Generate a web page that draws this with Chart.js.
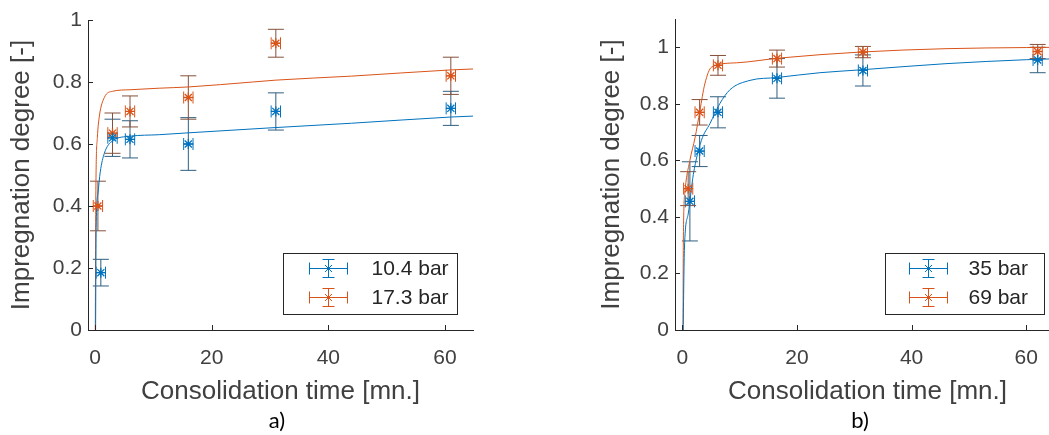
<!DOCTYPE html>
<html>
<head>
<meta charset="utf-8">
<script src="https://cdn.jsdelivr.net/npm/chart.js@4.4.1/dist/chart.umd.min.js"></script>
<style>
  html, body { margin: 0; padding: 0; background: #fff; overflow: hidden; }
  body { width: 1049px; height: 435px; position: relative; }
  .panel { position: absolute; top: 0; height: 435px; }
  #panelA { left: 0; width: 525px; }
  #panelB { left: 525px; width: 545px; }
  .cap { position: absolute; top: 406px; font: 22px Lato, "Open Sans", sans-serif; color: #000; transform: translateX(-50%); }
</style>
</head>
<body>
<div class="panel" id="panelA"><canvas id="chartA"></canvas></div>
<div class="panel" id="panelB"><canvas id="chartB"></canvas></div>
<div class="cap" style="left:277px">a)</div>
<div class="cap" style="left:860px">b)</div>
<script>
// ticks
var xTicks = [0, 20, 40, 60];
var yTicks = [0, 0.2, 0.4, 0.6, 0.8, 1];

// a) measured points, 10.4 bar and 17.3 bar
var timeA1 = [1, 3, 6, 16, 31, 61];
var degA1 = [0.185, 0.62, 0.615, 0.60, 0.705, 0.715];
var errA1 = [0.043, 0.06, 0.06, 0.085, 0.06, 0.055];
var timeA2 = [0.5, 3, 6, 16, 31, 61];
var degA2 = [0.40, 0.635, 0.705, 0.75, 0.925, 0.82];
var errA2 = [0.08, 0.065, 0.05, 0.07, 0.045, 0.06];

// a) fitted curves
var fitTimeA1 = [0.1, 0.2, 0.5, 0.9, 1.6, 3, 6, 11, 16, 30, 44, 61, 64.8];
var fitA1 = [0, 0.33, 0.44, 0.51, 0.57, 0.61, 0.625, 0.63, 0.636, 0.652, 0.667, 0.687, 0.69];
var fitTimeA2 = [0.05, 0.15, 0.4, 0.75, 1.6, 3, 6, 11, 16, 27, 31, 44, 61, 64.8];
var fitA2 = [0, 0.45, 0.62, 0.69, 0.75, 0.77, 0.775, 0.78, 0.784, 0.80, 0.806, 0.819, 0.839, 0.842];

// b) measured points, 35 bar and 69 bar
var timeB1 = [1.3, 3, 6.2, 16.5, 31.5, 62];
var degB1 = [0.455, 0.633, 0.77, 0.89, 0.918, 0.955];
var errB1 = [0.14, 0.055, 0.055, 0.07, 0.055, 0.045];
var timeB2 = [1, 3, 6.2, 16.5, 31.5, 62];
var degB2 = [0.50, 0.77, 0.936, 0.96, 0.983, 0.985];
var errB2 = [0.06, 0.045, 0.035, 0.03, 0.02, 0.025];

// b) fitted curves
var fitTimeB1 = [0.12, 0.35, 1.0, 1.9, 3.3, 4.8, 6.5, 8.3, 11.8, 16.5, 24, 31, 46, 60, 65.9];
var fitB1 = [0, 0.29, 0.41, 0.55, 0.67, 0.73, 0.80, 0.85, 0.883, 0.893, 0.91, 0.92, 0.942, 0.956, 0.96];
var fitTimeB2 = [0.1, 0.15, 0.44, 1.3, 2.2, 3.05, 3.9, 5.1, 9.4, 17, 31, 46, 60, 65.9];
var fitB2 = [0, 0.3, 0.49, 0.60, 0.68, 0.776, 0.87, 0.93, 0.945, 0.962, 0.983, 0.995, 0.999, 1.0];

// horizontal error on the time, in minutes
var timeErr = 0.8;

var BLUE = '#0072BD', ORANGE = '#D95319';
var BLUE_BAR = '#2f5f80', ORANGE_BAR = '#85503a';
var AXIS = '#262626', TEXT = '#404040';
var FONT = '"Liberation Sans", Arial, sans-serif';

function pairs(xs, ys) {
    return xs.map(function (x, i) { return { x: x, y: ys[i] }; });
}

var errorBarPlugin = {
    id: 'errorBars',
    beforeDatasetsDraw: function (chart, args, opts) {
        var ctx = chart.ctx, xs = chart.scales.x, ys = chart.scales.y;
        ctx.save();
        ctx.lineWidth = 1;
        opts.series.forEach(function (s) {
            s.t.forEach(function (t, i) {
                var x = xs.getPixelForValue(t), y = ys.getPixelForValue(s.v[i]);
                var yTop = ys.getPixelForValue(s.v[i] + s.err[i]);
                var yBot = ys.getPixelForValue(s.v[i] - s.err[i]);
                var xL = xs.getPixelForValue(t - timeErr), xR = xs.getPixelForValue(t + timeErr);

                ctx.strokeStyle = s.barColor;
                ctx.beginPath();
                ctx.moveTo(x, yTop); ctx.lineTo(x, yBot);
                ctx.moveTo(x - 8, yTop); ctx.lineTo(x + 8, yTop);
                ctx.moveTo(x - 8, yBot); ctx.lineTo(x + 8, yBot);
                ctx.stroke();

                ctx.strokeStyle = s.color;
                ctx.beginPath();
                ctx.moveTo(xL, y); ctx.lineTo(xR, y);
                ctx.moveTo(xL, y - 6); ctx.lineTo(xL, y + 6);
                ctx.moveTo(xR, y - 6); ctx.lineTo(xR, y + 6);
                ctx.stroke();
            });
        });
        ctx.restore();
    }
};

// MATLAB style ticks pointing into the axes
var innerTicksPlugin = {
    id: 'innerTicks',
    afterDraw: function (chart) {
        var ctx = chart.ctx, area = chart.chartArea;
        ctx.save();
        ctx.strokeStyle = AXIS;
        ctx.lineWidth = 1;
        ctx.beginPath();
        chart.scales.x.ticks.forEach(function (tk) {
            var px = Math.round(chart.scales.x.getPixelForValue(tk.value)) + 0.5;
            ctx.moveTo(px, area.bottom); ctx.lineTo(px, area.bottom - 5);
        });
        chart.scales.y.ticks.forEach(function (tk) {
            var py = Math.round(chart.scales.y.getPixelForValue(tk.value)) + 0.5;
            ctx.moveTo(area.left, py); ctx.lineTo(area.left + 5, py);
        });
        ctx.stroke();
        ctx.restore();
    }
};

var boxLegendPlugin = {
    id: 'boxLegend',
    afterDraw: function (chart, args, opts) {
        var ctx = chart.ctx, area = chart.chartArea;
        var w = opts.width, h = 61;
        var x1 = Math.round(area.right - 16 - w) + 0.5, y1 = Math.round(area.bottom - 16 - h) + 0.5;
        ctx.save();
        ctx.fillStyle = '#fff';
        ctx.fillRect(x1, y1, w, h);
        ctx.strokeStyle = AXIS;
        ctx.lineWidth = 1;
        ctx.strokeRect(x1, y1, w, h);
        opts.items.forEach(function (it, i) {
            var cy = y1 + 15 + i * 29, cx = x1 + opts.iconX;
            ctx.lineWidth = 1;
            ctx.strokeStyle = it.color;
            ctx.beginPath();
            ctx.moveTo(cx - 19, cy); ctx.lineTo(cx + 19, cy);
            ctx.moveTo(cx - 19, cy - 6); ctx.lineTo(cx - 19, cy + 6);
            ctx.moveTo(cx + 19, cy - 6); ctx.lineTo(cx + 19, cy + 6);
            ctx.moveTo(cx, cy - 9); ctx.lineTo(cx, cy + 9);
            ctx.moveTo(cx - 6, cy - 9); ctx.lineTo(cx + 6, cy - 9);
            ctx.moveTo(cx - 6, cy + 9); ctx.lineTo(cx + 6, cy + 9);
            // asterisk marker
            ctx.moveTo(cx - 5, cy); ctx.lineTo(cx + 5, cy);
            ctx.moveTo(cx - 3.5, cy - 3.5); ctx.lineTo(cx + 3.5, cy + 3.5);
            ctx.moveTo(cx - 3.5, cy + 3.5); ctx.lineTo(cx + 3.5, cy - 3.5);
            ctx.stroke();
            ctx.fillStyle = AXIS;
            ctx.font = '21px ' + FONT;
            ctx.textBaseline = 'middle';
            ctx.fillText(it.label, x1 + opts.textX, cy + 1);
        });
        ctx.restore();
    }
};

function makeChart(id, p) {
    var datasets = [
        { data: pairs(p.fitT1, p.fit1), borderColor: p.c1, borderWidth: 1, pointRadius: 0, showLine: true, cubicInterpolationMode: 'monotone', order: 2 },
        { data: pairs(p.fitT2, p.fit2), borderColor: p.c2, borderWidth: 1, pointRadius: 0, showLine: true, cubicInterpolationMode: 'monotone', order: 2 },
        { data: pairs(p.t1, p.v1), borderColor: p.c1, pointStyle: 'star', pointRadius: 5, pointBorderWidth: 1.3, showLine: false, order: 0 },
        { data: pairs(p.t2, p.v2), borderColor: p.c2, pointStyle: 'star', pointRadius: 5, pointBorderWidth: 1.3, showLine: false, order: 0 }
    ];

    return new Chart(document.getElementById(id), {
        type: 'scatter',
        data: { datasets: datasets },
        plugins: [errorBarPlugin, innerTicksPlugin, boxLegendPlugin],
        options: {
            responsive: true,
            maintainAspectRatio: false,
            animation: false,
            layout: { padding: { top: p.padTop, right: p.padRight, left: 0, bottom: 0 } },
            plugins: {
                legend: { display: false },
                tooltip: { enabled: false },
                errorBars: {
                    series: [
                        { t: p.t1, v: p.v1, err: p.e1, color: p.c1, barColor: BLUE_BAR },
                        { t: p.t2, v: p.v2, err: p.e2, color: p.c2, barColor: ORANGE_BAR }
                    ]
                },
                boxLegend: {
                    width: p.legendW, iconX: p.legendIconX, textX: p.legendTextX,
                    items: [{ label: p.label1, color: p.c1 }, { label: p.label2, color: p.c2 }]
                }
            },
            scales: {
                x: {
                    type: 'linear',
                    min: p.xMin, max: p.xMax,
                    afterBuildTicks: function (s) { s.ticks = xTicks.map(function (v) { return { value: v }; }); },
                    afterFit: function (s) { s.height = 105; },
                    grid: { display: false, drawTicks: false },
                    border: { display: true, color: AXIS, width: 1 },
                    ticks: { color: TEXT, padding: 16, maxRotation: 0, font: { family: FONT, size: 21 }, callback: function (v) { return String(v); } },
                    title: { display: true, text: 'Consolidation time [mn.]', color: TEXT, font: { family: FONT, size: 26 }, padding: { top: 0, bottom: 28 } }
                },
                y: {
                    type: 'linear',
                    min: 0, max: p.yMax,
                    afterBuildTicks: function (s) { s.ticks = yTicks.map(function (v) { return { value: v }; }); },
                    afterFit: function (s) { s.width = p.yWidth; },
                    grid: { display: false, drawTicks: false },
                    border: { display: true, color: AXIS, width: 1 },
                    ticks: { color: TEXT, padding: 6, font: { family: FONT, size: 21 }, callback: function (v) { return String(v); } },
                    title: { display: true, text: 'Impregnation degree [-]', color: TEXT, font: { family: FONT, size: 26 }, padding: { top: p.yTitlePad, bottom: 0 } }
                }
            }
        }
    });
}

makeChart('chartA', {
    t1: timeA1, v1: degA1, e1: errA1, t2: timeA2, v2: degA2, e2: errA2,
    fitT1: fitTimeA1, fit1: fitA1, fitT2: fitTimeA2, fit2: fitA2,
    c1: BLUE, c2: ORANGE, label1: '10.4 bar', label2: '17.3 bar',
    xMin: -1.2, xMax: 64.8, yMax: 1,
    padTop: 20, padRight: 52, yWidth: 88, yTitlePad: 6,
    legendW: 174, legendIconX: 45, legendTextX: 88
});

makeChart('chartB', {
    t1: timeB1, v1: degB1, e1: errB1, t2: timeB2, v2: degB2, e2: errB2,
    fitT1: fitTimeB1, fit1: fitB1, fitT2: fitTimeB2, fit2: fitB2,
    c1: BLUE, c2: ORANGE, label1: '35 bar', label2: '69 bar',
    xMin: -1.3, xMax: 65.9, yMax: 1.1,
    padTop: 19, padRight: 10, yWidth: 150, yTitlePad: 71,
    legendW: 159, legendIconX: 43, legendTextX: 83
});
</script>
</body>
</html>
